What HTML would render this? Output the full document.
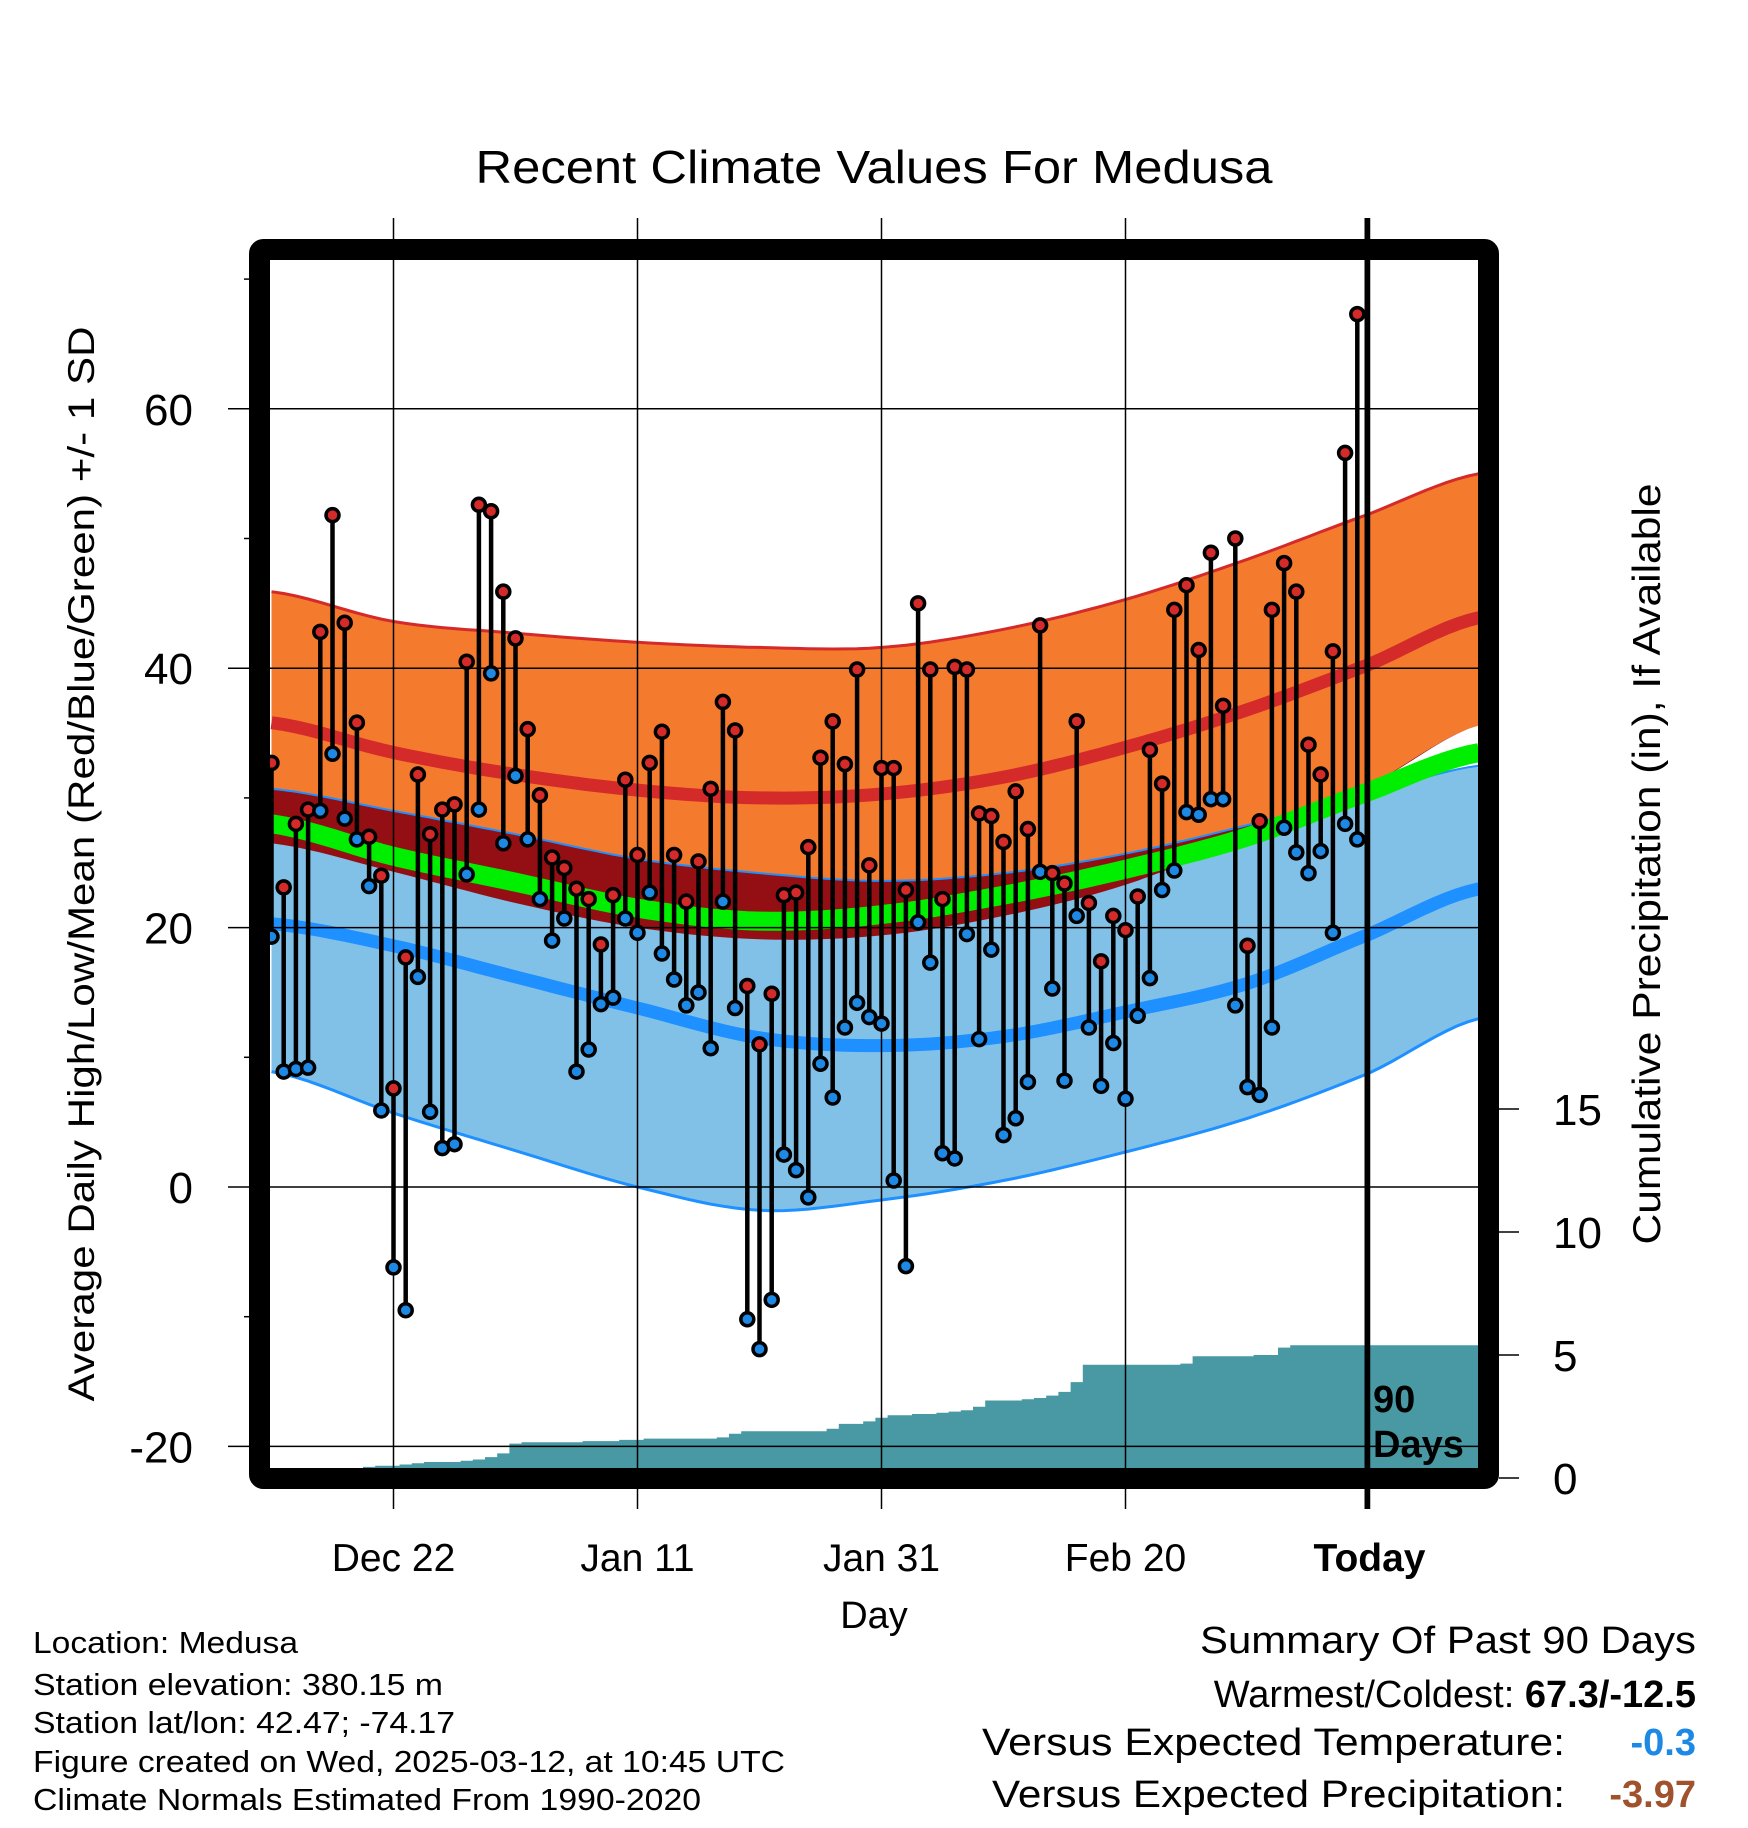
<!DOCTYPE html>
<html><head><meta charset="utf-8"><style>
html,body{margin:0;padding:0;background:#fff;}
svg{display:block;font-family:"Liberation Sans",Arial,sans-serif;}
</style></head><body>
<svg id="chart" width="1748" height="1828" viewBox="0 0 1748 1828" xmlns="http://www.w3.org/2000/svg">
<defs><clipPath id="plotclip"><rect x="270" y="260" width="1208" height="1208"/></clipPath></defs>
<g id="bands" clip-path="url(#plotclip)"></g>
<g id="grid"></g>
<g id="series" clip-path="url(#plotclip)"></g>
<line x1="1367" y1="218" x2="1367" y2="1509" stroke="#000" stroke-width="5"/>
<rect x="259.5" y="249.5" width="1229" height="1229" fill="none" stroke="#000" stroke-width="21" rx="4"/>
<text x="1373" y="1412" font-size="38" font-weight="bold">90</text>
<text x="1373" y="1457" font-size="38" font-weight="bold">Days</text>
<g id="axes"></g>
<text x="874" y="183" font-size="46" text-anchor="middle" textLength="797" lengthAdjust="spacingAndGlyphs">Recent Climate Values For Medusa</text>
<text transform="translate(94,864) rotate(-90)" font-size="37" text-anchor="middle" textLength="1075" lengthAdjust="spacingAndGlyphs">Average Daily High/Low/Mean (Red/Blue/Green) +/- 1 SD</text>
<text transform="translate(1660,864) rotate(-90)" font-size="39" text-anchor="middle" textLength="761" lengthAdjust="spacingAndGlyphs">Cumulative Precipitation (in), If Available</text>
<text x="874" y="1628" font-size="38" text-anchor="middle">Day</text>
<g font-size="31">
<text x="33" y="1653" textLength="265" lengthAdjust="spacingAndGlyphs">Location: Medusa</text>
<text x="33" y="1695" textLength="410" lengthAdjust="spacingAndGlyphs">Station elevation: 380.15 m</text>
<text x="33" y="1733" textLength="422" lengthAdjust="spacingAndGlyphs">Station lat/lon: 42.47; -74.17</text>
<text x="33" y="1772" textLength="752" lengthAdjust="spacingAndGlyphs">Figure created on Wed, 2025-03-12, at 10:45 UTC</text>
<text x="33" y="1810" textLength="668" lengthAdjust="spacingAndGlyphs">Climate Normals Estimated From 1990-2020</text>
</g>
<g font-size="38">
<text x="1696" y="1653" text-anchor="end" textLength="496" lengthAdjust="spacingAndGlyphs">Summary Of Past 90 Days</text>
<text x="1696" y="1707" text-anchor="end">Warmest/Coldest: <tspan font-weight="bold">67.3/-12.5</tspan></text>
<text x="1565" y="1755" text-anchor="end" textLength="583" lengthAdjust="spacingAndGlyphs">Versus Expected Temperature:</text>
<text x="1696" y="1755" text-anchor="end" font-weight="bold" fill="#1e88e5">-0.3</text>
<text x="1565" y="1807" text-anchor="end" textLength="573" lengthAdjust="spacingAndGlyphs">Versus Expected Precipitation:</text>
<text x="1696" y="1807" text-anchor="end" font-weight="bold" fill="#a0522d">-3.97</text>
</g>
</svg>
<script>
// ---- data ----
const highs = [32.7,23.1,28.0,29.1,42.8,51.8,43.5,35.8,27.0,24.0,7.6,17.7,31.8,27.2,29.1,29.5,40.5,52.6,52.1,45.9,42.3,35.3,30.2,25.4,24.6,23.0,22.2,18.7,22.5,31.4,25.6,32.7,35.1,25.6,22.0,25.1,30.7,37.4,35.2,15.5,11.0,14.9,22.5,22.7,26.2,33.1,35.9,32.6,39.9,24.8,32.3,32.3,22.9,45.0,39.9,22.2,40.1,39.9,28.8,28.6,26.6,30.5,27.6,43.3,24.2,23.4,35.9,21.9,17.4,20.9,19.8,22.4,33.7,31.1,44.5,46.4,41.4,48.9,37.1,50.0,18.6,28.2,44.5,48.1,45.9,34.1,31.8,41.3,56.6,67.3];
const lows = [19.3,8.9,9.1,9.2,29.0,33.4,28.4,26.8,23.2,5.9,-6.2,-9.5,16.2,5.8,3.0,3.3,24.1,29.1,39.6,26.5,31.7,26.8,22.2,19.0,20.7,8.9,10.6,14.1,14.6,20.7,19.6,22.7,18.0,16.0,14.0,15.0,10.7,22.0,13.8,-10.2,-12.5,-8.7,2.5,1.3,-0.8,9.5,6.9,12.3,14.2,13.1,12.6,0.5,-6.1,20.4,17.3,2.6,2.2,19.5,11.4,18.3,4.0,5.3,8.1,24.3,15.3,8.2,20.9,12.3,7.8,11.1,6.8,13.2,16.1,22.9,24.4,28.9,28.7,29.9,29.9,14.0,7.7,7.1,12.3,27.7,25.8,24.2,25.9,19.6,28.0,26.8];
const precipCum = [0,0,0,0,0,0,0,0.2,0.45,0.5,0.5,0.55,0.6,0.65,0.65,0.65,0.7,0.75,0.85,1.0,1.4,1.45,1.45,1.45,1.45,1.45,1.5,1.5,1.5,1.55,1.55,1.6,1.6,1.6,1.6,1.6,1.6,1.65,1.8,1.9,1.9,1.9,1.9,1.9,1.9,1.9,2.0,2.2,2.2,2.3,2.45,2.55,2.55,2.6,2.6,2.65,2.7,2.75,2.9,3.15,3.15,3.15,3.2,3.25,3.35,3.5,3.9,4.6,4.6,4.6,4.6,4.6,4.6,4.6,4.6,4.65,4.95,4.95,4.95,4.95,4.95,5.0,5.0,5.3,5.4,5.4,5.4,5.4,5.4,5.4];
// normals sampled every 10 days (day 0..90) plus day 99 (right edge)
const normDays = [0,10,20,30,40,50,60,70,80,90,99];
const highPlusSD = [45.9,43.6,42.7,42.0,41.6,41.6,43.0,45.3,48.4,51.9,55.0];
const normHigh = [35.8,33.5,31.8,30.6,30.0,30.3,31.6,33.9,36.8,40.3,43.9];
const highMinusSD = [26.5,24.3,21.9,20.0,19.1,19.4,20.9,23.3,27.0,31.0,35.6];
const lowPlusSD = [30.7,29.0,27.2,25.3,24.2,23.6,24.2,25.7,27.9,30.3,32.5];
const normLow = [20.3,18.6,16.2,13.8,11.5,10.9,11.6,13.5,15.7,19.5,23.0];
const lowMinusSD = [8.9,5.7,2.8,0.0,-1.8,-1.0,0.5,2.7,5.3,8.8,13.0];
const normMean = [28.0,25.5,23.5,21.5,20.5,21.0,22.5,24.5,27.0,30.5,33.5];
const tempTicks = [-20,0,20,40,60];
const tempMinorTicks = [-10,10,30,50,70];
const precipTicks = [0,5,10,15];
const dateTickDays = [10,30,50,70,90];
const dateTickLabels = ["Dec 22","Jan 11","Jan 31","Feb 20","Today"];

// ---- scales ----
const NS="http://www.w3.org/2000/svg";
const xDay = d => 271.5 + 12.2*d;
const yT = t => 1187 - 12.97*t;
const yP = p => 1478 - 24.6*p;

function mk(tag, attrs, parent){const e=document.createElementNS(NS,tag);for(const k in attrs)e.setAttribute(k,attrs[k]);parent.appendChild(e);return e;}
function smooth(arr){
  const pts=[];
  for(let i=0;i<normDays.length-1;i++){
    const p0=arr[Math.max(0,i-1)],p1=arr[i],p2=arr[i+1],p3=arr[Math.min(arr.length-1,i+2)];
    const d1=normDays[i],d2=normDays[i+1];
    for(let s=0;s<10;s++){const t=s/10;
      const v=0.5*((2*p1)+(-p0+p2)*t+(2*p0-5*p1+4*p2-p3)*t*t+(-p0+3*p1-3*p2+p3)*t*t*t);
      pts.push([xDay(d1+(d2-d1)*t),yT(v)]);}
  }
  pts.push([xDay(normDays[normDays.length-1]),yT(arr[arr.length-1])]);
  return pts;
}
const line = pts => pts.map((p,i)=>(i?'L':'M')+p[0].toFixed(1)+','+p[1].toFixed(1)).join('');
const band = (a,b) => line(smooth(a)) + line(smooth(b).reverse()).replace('M','L') + 'Z';

const bands=document.getElementById('bands');
let e;
e=mk('path',{d:band(highPlusSD,highMinusSD),fill:'#f47a2e'},bands);


e=mk('path',{d:band(lowPlusSD,lowMinusSD),fill:'#82c1e7'},bands);


const ovTop=lowPlusSD.map((v,i)=>Math.max(v,highMinusSD[i]));
e=mk('path',{d:band(ovTop,highMinusSD),fill:'#930f13'},bands);


e=mk('path',{d:line(smooth(highPlusSD)),fill:'none',stroke:'#d42a2a',"stroke-width":3},bands);


e=mk('path',{d:line(smooth(lowPlusSD)),fill:'none',stroke:'#1e90ff',"stroke-width":2},bands);


e=mk('path',{d:line(smooth(lowMinusSD)),fill:'none',stroke:'#1e90ff',"stroke-width":3},bands);


e=mk('path',{d:line(smooth(normHigh)),fill:'none',stroke:'#d42a2a',"stroke-width":13},bands);


e=mk('path',{d:line(smooth(normLow)),fill:'none',stroke:'#1e90ff',"stroke-width":13},bands);


e=mk('path',{d:line(smooth(normMean)),fill:'none',stroke:'#00ee00',"stroke-width":19},bands);


let pd='M'+xDay(-0.5)+','+yP(0);
precipCum.forEach((p,i)=>{pd+='L'+xDay(i-0.5).toFixed(1)+','+yP(p).toFixed(1)+'L'+xDay(i+0.5).toFixed(1)+','+yP(p).toFixed(1);});
pd+='L'+xDay(100)+','+yP(precipCum[precipCum.length-1]).toFixed(1)+'L'+xDay(100)+','+yP(0)+'Z';
e=mk('path',{d:pd,fill:'#4899a3'},bands);



const grid=document.getElementById('grid');
tempTicks.forEach(t=>{
  const g=mk('line',{x1:228,x2:1478,y1:yT(t),y2:yT(t),stroke:'#000',"stroke-width":1.5},grid);
  
  
});
tempMinorTicks.forEach(t=>{
  const g=mk('line',{x1:244,x2:252,y1:yT(t),y2:yT(t),stroke:'#000',"stroke-width":1.5},grid);
  
  
});
dateTickDays.forEach((d,i)=>{
  const g=mk('line',{x1:xDay(d),x2:xDay(d),y1:218,y2:1509,stroke:'#000',"stroke-width":1.5},grid);
  
  
});

const axes=document.getElementById('axes');
tempTicks.forEach(t=>{
  const tx=mk('text',{x:193,y:yT(t)+16,"font-size":44,"text-anchor":"end"},axes);
  tx.textContent=String(t);
  
  
});
precipTicks.forEach(p=>{
  const l=mk('line',{x1:1499,x2:1519,y1:yP(p),y2:yP(p),stroke:'#000',"stroke-width":1.5},axes);
  
  
  const tx=mk('text',{x:1553,y:yP(p)+16,"font-size":44},axes);
  tx.textContent=String(p);
  
  
});
dateTickDays.forEach((d,i)=>{
  const tx=mk('text',{x:xDay(d),y:1571,"font-size":39,"text-anchor":"middle"},axes);
  if(dateTickLabels[i]==="Today") tx.setAttribute('font-weight','bold');
  tx.textContent=dateTickLabels[i];
  
  
});

const series=document.getElementById('series');
highs.forEach((h,i)=>{
  const x=xDay(i);
  const s=mk('line',{x1:x,x2:x,y1:yT(h),y2:yT(lows[i]),stroke:'#000',"stroke-width":4.5},series);
  
  
});
highs.forEach((h,i)=>{
  const x=xDay(i);
  const c1=mk('circle',{cx:x,cy:yT(h),r:6.5,fill:'#d42a2a',stroke:'#000',"stroke-width":3.5},series);
  
  
  const c2=mk('circle',{cx:x,cy:yT(lows[i]),r:6.5,fill:'#1e88e5',stroke:'#000',"stroke-width":3.5},series);
  
  
});
</script>
</body></html>
